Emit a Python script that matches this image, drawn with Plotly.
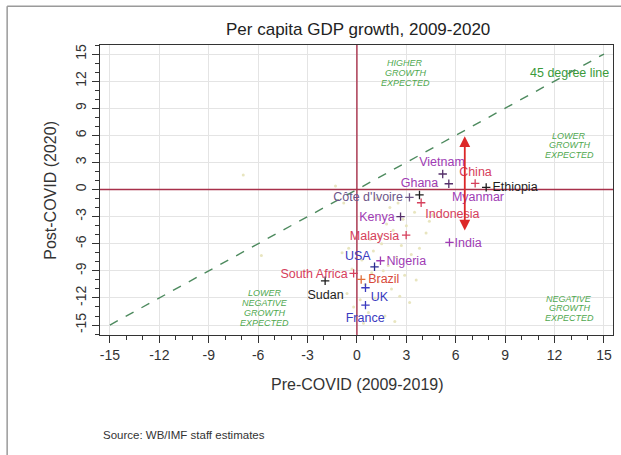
import plotly.graph_objects as go

# ---------------- data ----------------
countries = ["Vietnam", "Ghana", "China", "Ethiopia", "Myanmar", "Côte d'Ivoire",
             "Indonesia", "Kenya", "Malaysia", "India", "USA", "Nigeria",
             "South Africa", "Brazil", "Sudan", "UK", "France"]
pre_covid = [5.21, 5.58, 7.18, 7.85, 3.8, 3.19, 3.9, 2.65, 2.99, 5.62, 1.07, 1.43,
             -0.2, 0.26, -1.93, 0.52, 0.52]
post_covid = [1.72, 0.64, 0.68, 0.24, -0.6, -0.87, -1.46, -3.0, -5.04, -5.85, -8.55, -7.88,
              -9.28, -9.95, -10.1, -10.87, -12.79]

# faint background countries
bg_pre = [-6.9, -1.3, -0.8, 1.2, 2.0, 2.5, 3.5, 4.4, 4.8, 1.8, 2.2, 3.0, 0.8, 1.5, -0.5,
          -0.9, 1.0, 2.7, 3.3, 4.2, 0.3, 1.9, 2.4, 3.8, -0.3, 0.9, 1.6, 2.9, 0.5, 1.3,
          2.1, -0.6, 0.2, 1.1, 2.6, 3.2, 0.7, 1.7, -0.2, 0.4, 2.3, 3.6, -5.8, 4.6, 2.8, 1.4]
bg_post = [1.6, 0.4, -1.5, -1.0, -2.0, -1.5, -2.5, -3.5, 0.5, -3.8, -4.5, -4.0, -5.5, -6.0,
           -6.5, -7.0, -6.8, -6.2, -7.2, -4.8, -7.8, -8.4, -7.5, -6.5, -8.8, -9.2, -9.0,
           -9.5, -10.5, -10.2, -11.0, -11.5, -12.2, -12.0, -11.8, -12.5, -13.6, -14.0,
           -13.0, -14.8, -14.6, -10.0, -7.3, -2.8, -3.3, -5.2]

diag_line = [-15, 15]
zero_ref = 0
arrow_x = 6.55
arrow_y = [-4.7, 5.9]

x_range = [-15.6, 15.55]
y_range = [-16.1, 16.0]
tick_vals = [-15, -12, -9, -6, -3, 0, 3, 6, 9, 12, 15]
tick_text = ["-15", "-12", "-9", "-6", "-3", "0", "3", "6", "9", "12", "15"]

# ---------------- styling ----------------
PURPLE = "#a03cb4"
RED = "#d6405c"
BLUE = "#3a3ac0"
BLACK = "#1e1e1e"
GREYPUR = "#6e5688"
country_colors = [PURPLE, PURPLE, RED, BLACK, PURPLE, GREYPUR, RED, PURPLE, RED, PURPLE,
                  BLUE, PURPLE, RED, "#d84a3a", BLACK, BLUE, BLUE]
marker_colors = ["#55306a", "#55306a", RED, BLACK, BLACK, GREYPUR, RED, "#55306a", RED,
                 PURPLE, "#2a2a90", PURPLE, RED, "#e0703a", BLACK, BLUE, BLUE]
# label offsets relative to each marker (data units)
label_dx = [-0.04, -1.78, 0.02, 1.75, 3.55, -2.51, 1.9, -1.43, -1.92, 1.13, -1.02, 1.57,
            -2.4, 1.37, 0.03, 0.85, -0.02]
label_dy = [1.18, 0.04, 1.12, -0.11, -0.27, 0.0, -1.36, -0.19, -0.16, -0.11, 1.11, -0.12,
            -0.19, -0.05, -1.66, -1.07, -1.51]

FONT = "Liberation Sans, Arial, sans-serif"
GREEN = "#4fa84f"
ZERO_COL = "#a8304a"

fig = go.Figure()

# 45 degree line
fig.add_trace(go.Scatter(x=diag_line, y=diag_line, mode="lines",
                         line=dict(color="#4d8a5e", width=1.4, dash="dash"),
                         hoverinfo="skip", showlegend=False))

# background points
fig.add_trace(go.Scatter(x=bg_pre, y=bg_post, mode="markers",
                         marker=dict(size=3, color="#e6e2b8", opacity=0.9),
                         hoverinfo="skip", showlegend=False))

# zero reference lines
fig.add_trace(go.Scatter(x=[zero_ref, zero_ref], y=y_range, mode="lines",
                         line=dict(color=ZERO_COL, width=1.4),
                         hoverinfo="skip", showlegend=False))
fig.add_trace(go.Scatter(x=x_range, y=[zero_ref, zero_ref], mode="lines",
                         line=dict(color=ZERO_COL, width=1.4),
                         hoverinfo="skip", showlegend=False))

# labelled country markers
fig.add_trace(go.Scatter(x=pre_covid, y=post_covid, mode="markers",
                         marker=dict(symbol="cross-thin", size=6,
                                     color=marker_colors,
                                     line=dict(width=1.3, color=marker_colors)),
                         hoverinfo="skip", showlegend=False))

# labels
lab_x = [p + d for p, d in zip(pre_covid, label_dx)]
lab_y = [p + d for p, d in zip(post_covid, label_dy)]
fig.add_trace(go.Scatter(x=lab_x, y=lab_y, mode="text", text=countries,
                         textposition="middle center",
                         textfont=dict(family=FONT, size=12.5, color=country_colors),
                         hoverinfo="skip", showlegend=False))

# red double arrow
fig.add_annotation(x=arrow_x, y=arrow_y[1], ax=arrow_x, ay=arrow_y[0],
                   xref="x", yref="y", axref="x", ayref="y",
                   showarrow=True, arrowhead=2, startarrowhead=2, arrowside="end+start",
                   arrowsize=1.2, arrowwidth=1.8, arrowcolor="#dc2828", text="")

# quadrant notes (one annotation per line, tight line spacing)
LINE_STEP = 1.08  # data units between lines


def note(x, y, lines):
    n = len(lines)
    for i, ln in enumerate(lines):
        yy = y + (n - 1) / 2 * LINE_STEP - i * LINE_STEP
        fig.add_annotation(x=x, y=yy, xref="x", yref="y", text="<i>" + ln + "</i>",
                           showarrow=False, xanchor="center", yanchor="middle",
                           font=dict(family=FONT, size=9, color=GREEN))


note(2.95, 12.9, ["HIGHER", "GROWTH", "EXPECTED"])
note(12.9, 4.9, ["LOWER", "GROWTH", "EXPECTED"])
note(12.9, -13.15, ["NEGATIVE", "GROWTH", "EXPECTED"])
note(-5.6, -13.1, ["LOWER", "NEGATIVE", "GROWTH", "EXPECTED"])
fig.add_annotation(x=12.9, y=12.85, xref="x", yref="y", text="45 degree line",
                   showarrow=False, xanchor="center", yanchor="middle",
                   font=dict(family=FONT, size=12.5, color="#3a9a3a"))


# titles
def ptext(x, y, txt, size, color="#333", angle=0, xanchor="center"):
    fig.add_annotation(x=x, y=y, xref="paper", yref="paper", text=txt,
                       showarrow=False, textangle=angle,
                       xanchor=xanchor, yanchor="middle",
                       font=dict(family=FONT, size=size, color=color))


ptext(0.502, 1.052, "Per capita GDP growth, 2009-2020", 17, "#222")
ptext(0.502, -0.172, "Pre-COVID (2009-2019)", 16)
ptext(-0.098, 0.5, "Post-COVID (2020)", 16, angle=-90)
ptext(0.002, -0.345, "Source: WB/IMF staff estimates", 11.5, xanchor="left")

# outer frame (left & top edges)
fig.add_shape(type="line", xref="paper", yref="paper", x0=-0.181, x1=-0.181,
              y0=1.134, y1=-0.42, line=dict(color="#9a9a9a", width=1.5))
fig.add_shape(type="line", xref="paper", yref="paper", x0=-0.181, x1=1.03,
              y0=1.134, y1=1.134, line=dict(color="#9a9a9a", width=1.5))

axis_common = dict(tickmode="array", tickvals=tick_vals, ticktext=tick_text,
                   ticks="outside", ticklen=7, tickwidth=1, tickcolor="#333",
                   showgrid=True, gridcolor="#e4e4e4", gridwidth=1,
                   showline=True, mirror=True, linecolor="#333", linewidth=1,
                   zeroline=False, automargin=False, showspikes=False,
                   tickfont=dict(family=FONT, size=14, color="#333"),
                   minor=dict(tickmode="linear", tick0=0, dtick=1, ticks="outside",
                              ticklen=4, tickcolor="#333", showgrid=False))

fig.update_xaxes(range=x_range, **axis_common)
fig.update_yaxes(range=y_range, tickangle=-90, **axis_common)

fig.update_layout(width=621, height=455,
                  margin=dict(l=100, r=8, t=45, b=120, autoexpand=False),
                  plot_bgcolor="white", paper_bgcolor="white",
                  hovermode=False, dragmode=False,
                  font=dict(family=FONT))

fig.write_html("out.html", config={"displayModeBar": False, "staticPlot": True},
               post_script="document.body.style.margin='0';")
